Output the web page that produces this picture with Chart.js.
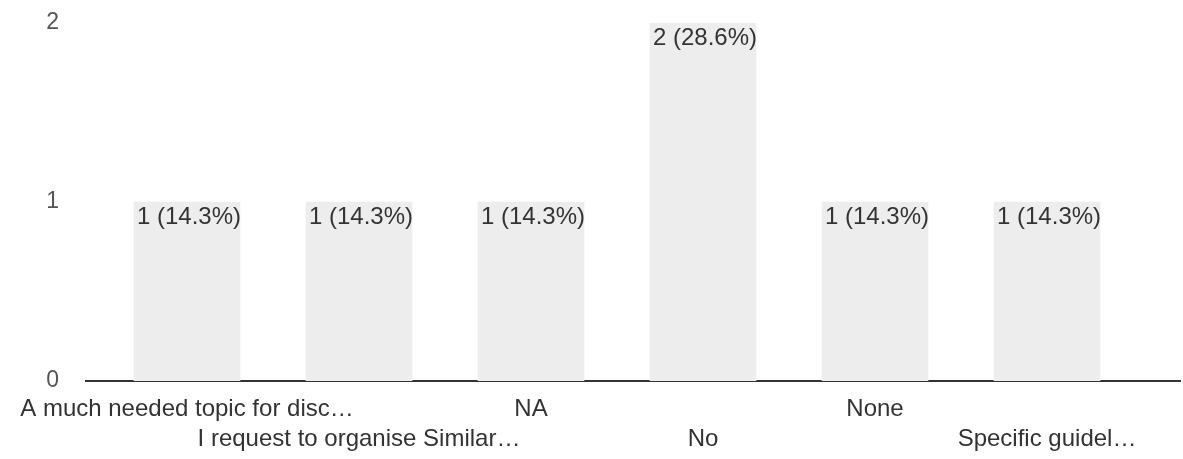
<!DOCTYPE html>
<html>
<head>
<meta charset="utf-8">
<script src="https://cdn.jsdelivr.net/npm/chart.js@4/dist/chart.umd.min.js"></script>
<style>
  html, body { margin: 0; padding: 0; background: #fff; }
  #wrap { width: 1183px; height: 459px; position: relative; }
</style>
</head>
<body>
<div id="wrap"><canvas id="chart"></canvas></div>
<script>
// ================= DATA =================
const categories = [
  "A much needed topic for disc…",
  "I request to organise Similar…",
  "NA",
  "No",
  "None",
  "Specific guidel…",
];
const counts = [1, 1, 1, 2, 1, 1];
const percents = ["14.3%", "14.3%", "14.3%", "28.6%", "14.3%", "14.3%"];
const yTicks = [0, 1, 2];

const FONT = "'Liberation Sans', Arial, sans-serif";

// labels "1 (14.3%)" on top of every bar
const barLabels = {
  id: "barLabels",
  afterDatasetsDraw(chart) {
    const ctx = chart.ctx;
    const meta = chart.getDatasetMeta(0);
    ctx.save();
    ctx.font = "24px " + FONT;
    ctx.fillStyle = "#333";
    ctx.textAlign = "center";
    ctx.textBaseline = "middle";
    meta.data.forEach((bar, i) => {
      const p = bar.getProps(["x", "y"], true);
      ctx.fillText(counts[i] + " (" + percents[i] + ")", p.x + 2, p.y + 15);
    });
    ctx.restore();
  },
};

new Chart(document.getElementById("chart"), {
  type: "bar",
  data: {
    datasets: [
      {
        data: counts.map((v, i) => ({ x: i, y: v })),
        backgroundColor: "#ededed",
        borderWidth: 0,
        barThickness: 106,
      },
    ],
  },
  options: {
    responsive: true,
    maintainAspectRatio: false,
    animation: false,
    layout: { padding: { top: 23, right: 3, left: 0, bottom: 0 } },
    plugins: { legend: { display: false }, tooltip: { enabled: false } },
    scales: {
      x: {
        type: "linear",
        offset: false,
        min: -0.587,
        max: 5.773,
        afterBuildTicks: (scale) => {
          scale.ticks = categories.map((_, i) => ({ value: i }));
        },
        afterFit: (scale) => {
          scale.height = 78;
          scale.paddingLeft = 0;
          scale.paddingRight = 0;
          scale.paddingTop = 0;
          scale.paddingBottom = 0;
        },
        grid: { display: false, drawTicks: false, offset: false },
        border: { display: true, color: "#333", width: 2 },
        ticks: {
          autoSkip: false,
          maxRotation: 0,
          minRotation: 0,
          padding: 13,
          color: "#333",
          font: { family: FONT, size: 24, lineHeight: "30px" },
          callback: (v) => {
            const name = categories[v];
            return v % 2 === 0 ? [name, ""] : ["", name];
          },
        },
      },
      y: {
        min: 0,
        max: 2,
        afterBuildTicks: (scale) => {
          scale.ticks = yTicks.map((v) => ({ value: v }));
        },
        afterFit: (scale) => {
          scale.width = 86;
          scale.paddingTop = 0;
          scale.paddingBottom = 0;
        },
        grid: { display: false, drawTicks: false },
        border: { display: false },
        ticks: {
          padding: 27,
          color: "#555",
          font: { family: FONT, size: 23 },
        },
      },
    },
  },
  plugins: [barLabels],
});
</script>
</body>
</html>
